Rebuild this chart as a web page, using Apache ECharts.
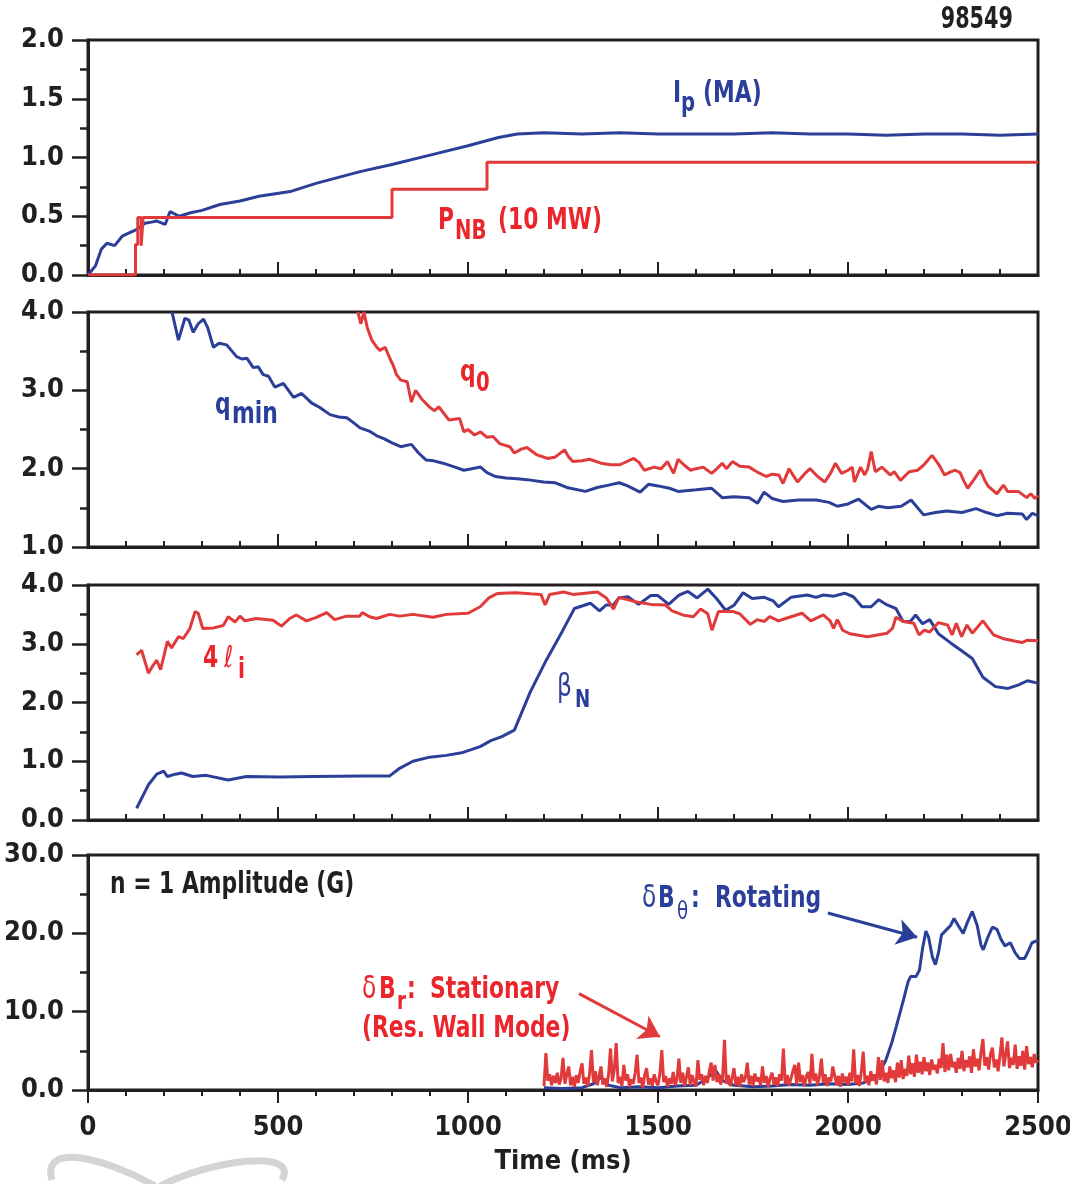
<!DOCTYPE html>
<html>
<head>
<meta charset="utf-8">
<script src="https://cdn.jsdelivr.net/npm/echarts@6/dist/echarts.min.js"></script>
<style>
  html, body { margin: 0; padding: 0; background: #fff; }
  #chart { width: 1070px; height: 1184px; }
</style>
</head>
<body>
<div id="chart"></div>
<script>
// ---- data (time in ms) ----
var ipData = [[0,0],[20,0.08],[35,0.22],[50,0.27],[70,0.25],[90,0.33],[110,0.36],[130,0.39],[150,0.44],[167,0.45],[180,0.46],[203,0.43],[216,0.54],[240,0.5],[270,0.53],[300,0.55],[347,0.6],[400,0.63],[450,0.67],[532,0.71],[600,0.78],[716,0.88],[800,0.94],[900,1.02],[1000,1.1],[1080,1.17],[1130,1.2],[1200,1.21],[1300,1.2],[1400,1.21],[1500,1.2],[1600,1.2],[1700,1.2],[1800,1.21],[1900,1.2],[2000,1.2],[2100,1.19],[2200,1.2],[2300,1.2],[2400,1.19],[2500,1.2]];
var pnbData = [[0,0],[125,0],[125,0.26],[131,0.26],[131,0.49],[140,0.49],[140,0.25],[145,0.25],[145,0.49],[800,0.49],[800,0.73],[1050,0.73],[1050,0.96],[2500,0.96]];

var qminData = [[221,4.0],[238,3.64],[255,3.92],[265,3.9],[277,3.74],[290,3.85],[304,3.91],[315,3.8],[330,3.55],[345,3.6],[365,3.58],[391,3.43],[405,3.4],[418,3.41],[435,3.29],[448,3.3],[461,3.2],[475,3.18],[492,3.04],[514,3.09],[541,2.91],[562,2.96],[575,2.9],[588,2.84],[610,2.78],[637,2.69],[660,2.66],[681,2.65],[695,2.6],[716,2.52],[740,2.48],[760,2.42],[780,2.38],[800,2.33],[823,2.28],[851,2.31],[870,2.2],[890,2.11],[910,2.1],[934,2.07],[960,2.03],[989,1.98],[1010,2.0],[1033,2.02],[1050,1.95],[1072,1.9],[1100,1.88],[1130,1.87],[1155,1.86],[1199,1.83],[1230,1.82],[1260,1.76],[1309,1.71],[1340,1.76],[1370,1.79],[1398,1.82],[1420,1.78],[1453,1.7],[1475,1.8],[1500,1.78],[1530,1.75],[1553,1.71],[1600,1.73],[1641,1.75],[1669,1.63],[1700,1.64],[1740,1.63],[1762,1.56],[1779,1.7],[1800,1.62],[1829,1.58],[1870,1.6],[1917,1.6],[1950,1.57],[1972,1.52],[2000,1.55],[2028,1.61],[2061,1.48],[2080,1.52],[2105,1.5],[2140,1.52],[2166,1.6],[2199,1.41],[2230,1.44],[2260,1.46],[2300,1.44],[2337,1.49],[2365,1.44],[2392,1.4],[2420,1.43],[2459,1.42],[2470,1.35],[2485,1.43],[2500,1.4]];
var q0Data = [[710,4.0],[718,3.85],[726,4.0],[735,3.8],[747,3.64],[760,3.55],[768,3.51],[782,3.55],[795,3.4],[803,3.32],[812,3.2],[823,3.13],[840,3.11],[851,2.85],[862,3.0],[878,2.89],[900,2.78],[912,2.74],[923,2.79],[950,2.62],[978,2.64],[989,2.47],[1000,2.5],[1017,2.43],[1033,2.47],[1050,2.4],[1066,2.41],[1083,2.32],[1110,2.28],[1122,2.2],[1140,2.25],[1155,2.27],[1180,2.18],[1210,2.13],[1230,2.15],[1254,2.24],[1265,2.15],[1276,2.09],[1300,2.1],[1320,2.12],[1350,2.07],[1376,2.05],[1400,2.05],[1436,2.13],[1450,2.08],[1464,1.98],[1490,2.02],[1508,2.0],[1525,2.09],[1541,1.94],[1553,2.12],[1570,2.04],[1586,1.98],[1600,2.0],[1619,2.02],[1641,1.94],[1655,2.0],[1669,2.07],[1680,2.0],[1696,2.09],[1715,2.03],[1740,2.02],[1760,1.96],[1785,1.9],[1800,1.93],[1818,1.92],[1829,1.81],[1845,2.0],[1855,1.92],[1867,1.83],[1885,1.93],[1900,2.0],[1920,1.9],[1939,1.83],[1955,1.95],[1967,2.07],[1983,1.94],[2000,1.98],[2011,2.02],[2017,1.83],[2033,2.02],[2044,1.92],[2052,2.0],[2061,2.22],[2072,1.96],[2089,2.02],[2111,1.92],[2122,1.96],[2138,1.85],[2161,1.96],[2183,1.98],[2200,2.05],[2221,2.17],[2235,2.08],[2243,2.02],[2254,1.92],[2270,1.96],[2282,1.98],[2295,1.95],[2304,1.85],[2315,1.75],[2330,1.85],[2348,1.98],[2360,1.85],[2370,1.77],[2392,1.68],[2409,1.79],[2420,1.71],[2448,1.71],[2470,1.63],[2481,1.68],[2492,1.62],[2500,1.66]];

var li4Data = [[128,2.81],[141,2.89],[159,2.5],[170,2.62],[181,2.72],[191,2.56],[209,3.04],[220,2.93],[238,3.12],[251,3.09],[268,3.26],[282,3.55],[290,3.52],[302,3.26],[330,3.27],[356,3.31],[369,3.46],[387,3.37],[400,3.47],[413,3.39],[443,3.43],[487,3.4],[509,3.3],[531,3.43],[548,3.49],[575,3.39],[601,3.45],[628,3.53],[649,3.41],[680,3.47],[715,3.47],[722,3.53],[741,3.46],[759,3.43],[794,3.5],[820,3.47],[855,3.5],[908,3.45],[943,3.5],[1000,3.52],[1032,3.63],[1055,3.78],[1075,3.85],[1089,3.86],[1126,3.87],[1164,3.85],[1192,3.84],[1203,3.66],[1215,3.84],[1252,3.88],[1276,3.84],[1341,3.88],[1364,3.78],[1383,3.59],[1397,3.79],[1444,3.71],[1481,3.67],[1519,3.66],[1537,3.56],[1565,3.49],[1593,3.46],[1612,3.59],[1631,3.51],[1642,3.23],[1659,3.55],[1696,3.55],[1715,3.51],[1743,3.33],[1761,3.41],[1780,3.38],[1794,3.46],[1817,3.39],[1836,3.43],[1879,3.52],[1902,3.39],[1935,3.49],[1953,3.39],[1962,3.26],[1972,3.41],[1986,3.23],[2005,3.17],[2051,3.12],[2103,3.18],[2117,3.26],[2126,3.45],[2145,3.38],[2173,3.35],[2187,3.15],[2201,3.23],[2215,3.2],[2238,3.36],[2262,3.32],[2274,3.15],[2285,3.35],[2299,3.12],[2313,3.32],[2327,3.18],[2355,3.39],[2383,3.15],[2407,3.09],[2435,3.05],[2458,3.02],[2472,3.06],[2500,3.05]];
var betaNData = [[128,0.2],[145,0.42],[159,0.6],[181,0.78],[199,0.83],[209,0.74],[230,0.78],[246,0.8],[276,0.74],[311,0.76],[369,0.68],[417,0.74],[505,0.73],[592,0.74],[724,0.75],[794,0.75],[820,0.88],[855,1.0],[899,1.07],[943,1.1],[987,1.15],[1032,1.25],[1060,1.35],[1089,1.42],[1122,1.53],[1164,2.18],[1206,2.72],[1248,3.21],[1280,3.6],[1322,3.69],[1346,3.56],[1364,3.66],[1383,3.66],[1397,3.78],[1421,3.8],[1449,3.67],[1481,3.82],[1500,3.82],[1528,3.67],[1556,3.83],[1579,3.89],[1603,3.78],[1631,3.93],[1654,3.77],[1678,3.57],[1701,3.66],[1724,3.87],[1748,3.77],[1780,3.79],[1803,3.73],[1817,3.63],[1850,3.79],[1893,3.83],[1916,3.79],[1935,3.83],[1963,3.81],[1991,3.86],[2014,3.8],[2037,3.63],[2061,3.63],[2081,3.75],[2103,3.66],[2126,3.6],[2145,3.38],[2164,3.38],[2178,3.49],[2196,3.34],[2215,3.41],[2238,3.17],[2271,3.01],[2299,2.88],[2327,2.75],[2355,2.43],[2388,2.27],[2421,2.24],[2449,2.3],[2472,2.37],[2500,2.33]];

var dBthetaData = [[1200,0.3],[1250,0.2],[1300,0.3],[1330,0.8],[1350,1.6],[1370,0.6],[1400,0.3],[1450,0.4],[1500,0.3],[1550,0.5],[1600,0.6],[1630,1.5],[1650,2.6],[1670,1.2],[1700,0.6],[1750,0.4],[1800,0.5],[1850,0.7],[1900,0.6],[1950,0.8],[2000,0.7],[2040,0.9],[2065,1.4],[2079,2.1],[2098,3.6],[2115,6.0],[2127,8.1],[2146,11.5],[2158,13.8],[2165,14.5],[2179,14.5],[2188,15.3],[2196,18.0],[2205,20.3],[2212,19.5],[2222,17.0],[2230,16.0],[2238,17.5],[2246,19.8],[2262,20.6],[2270,21.0],[2279,21.9],[2290,21.0],[2303,20.0],[2315,21.5],[2327,22.8],[2340,21.0],[2350,18.5],[2356,17.9],[2368,19.5],[2380,20.8],[2392,20.5],[2403,19.2],[2413,18.4],[2427,18.8],[2440,17.5],[2451,16.8],[2465,16.8],[2475,17.8],[2484,18.8],[2500,19.1]];

// dB_r sampled every 5 ms from 1200 ms
var dBrStart = 1200, dBrStep = 5;
var dBrValues = [
  0.5,4.7,1.2,2.0,0.6,1.8,0.9,2.2,0.7,1.5,4.1,0.8,2.0,3.0,0.6,1.7,0.4,1.9,0.9,2.3,
  3.4,0.8,1.6,0.5,2.1,5.1,1.0,2.4,0.6,1.8,3.0,0.7,1.5,0.4,2.0,5.3,1.1,2.6,6.0,0.9,
  1.7,0.5,3.2,1.2,2.0,0.4,1.4,0.8,2.2,4.5,0.9,1.6,0.3,1.9,2.8,0.7,1.5,0.5,2.0,1.1,
  0.6,2.1,5.1,1.0,1.8,0.4,1.5,0.8,2.3,0.6,1.4,4.0,0.9,2.2,0.5,1.7,2.9,0.6,1.9,1.0,
  0.5,3.8,1.3,2.0,0.6,1.8,0.9,2.4,3.5,1.2,3.2,1.0,2.0,0.7,1.6,6.4,0.8,1.9,0.5,1.5,
  2.8,0.6,1.7,0.4,2.0,1.0,1.6,3.5,0.7,1.8,0.5,2.1,1.1,1.6,0.6,3.0,0.9,1.8,0.4,1.5,
  2.2,0.7,1.6,0.5,2.0,1.2,5.3,0.8,1.9,0.6,1.5,2.4,3.2,0.7,3.5,1.0,1.9,0.5,1.7,2.3,
  0.8,4.6,1.2,2.1,0.6,1.8,4.0,0.9,2.0,0.5,1.6,1.1,3.0,3.2,0.7,1.8,0.4,2.1,1.0,1.7,
  0.6,2.2,1.1,5.2,0.8,1.9,0.5,2.3,4.9,1.0,1.8,0.6,2.4,1.2,2.0,0.7,4.2,1.3,3.8,1.1,
  2.2,0.9,3.0,1.5,2.5,1.0,3.5,1.6,3.8,1.4,2.7,1.8,4.4,2.0,3.4,1.7,4.5,2.2,3.6,2.0,
  4.2,2.4,3.5,1.9,3.9,2.6,3.2,2.1,4.0,2.8,6.0,2.3,4.5,2.5,4.6,2.9,3.6,2.2,4.1,2.7,
  5.0,2.4,3.8,2.9,4.3,2.2,5.2,3.0,4.0,2.5,4.8,6.5,3.1,4.2,2.6,4.6,5.4,2.9,3.9,2.4,
  4.4,6.7,3.0,4.5,6.2,2.8,4.1,3.2,5.8,2.7,4.3,3.1,5.0,2.6,5.6,3.3,4.2,2.9,4.6,3.5,3.8
];

var xTicks = [0, 500, 1000, 1500, 2000, 2500];

var BLUE = '#2b3f98';
var RED = '#e03a3a';
var TBLUE = '#2b3f9a';
var TRED = '#ea262c';
var INK = '#231f20';
var FONT = "'Liberation Sans Narrow', 'DejaVu Sans Condensed', sans-serif";
var SQUEEZE = 0.81;   // narrow the annotation text to look like a condensed face

var myChart = echarts.init(document.getElementById('chart'), null, {renderer: 'canvas'});

var dBrData = [];
dBrValues.forEach(function (v, i) {
    dBrData.push([dBrStart + i * dBrStep, v]);
});

var panels = [
    {top: 40,  min: 0, max: 2,  interval: 0.5},
    {top: 312, min: 1, max: 4,  interval: 1},
    {top: 585, min: 0, max: 4,  interval: 1},
    {top: 855, min: 0, max: 30, interval: 10}
];

var grids = [], xAxes = [], yAxes = [];
panels.forEach(function (p, i) {
    var last = i === panels.length - 1;
    grids.push({
        left: 88, right: 32, top: p.top, height: 235,
        containLabel: false, outerBoundsMode: 'none',
        show: true, borderColor: INK, borderWidth: 3
    });
    xAxes.push({
        type: 'value', gridIndex: i, min: xTicks[0], max: xTicks[xTicks.length - 1], interval: 500,
        axisLine: {show: true, onZero: false, lineStyle: {color: INK, width: 3}},
        axisTick: {show: true, inside: !last, length: 13, lineStyle: {color: INK, width: 2}},
        minorTick: {show: true, splitNumber: 5, length: 6, lineStyle: {color: INK, width: 2}},
        splitLine: {show: false},
        axisLabel: {
            show: last, margin: 24, color: INK,
            fontFamily: FONT, fontWeight: 'bold', fontSize: 27,
            formatter: function (v) { return String(v); }
        },
        name: last ? 'Time (ms)' : '',
        nameLocation: 'middle', nameGap: 58,
        nameTextStyle: {color: INK, fontFamily: FONT, fontWeight: 'bold', fontSize: 27}
    });
    yAxes.push({
        type: 'value', gridIndex: i, min: p.min, max: p.max, interval: p.interval,
        axisLine: {show: true, onZero: false, lineStyle: {color: INK, width: 3}},
        axisTick: {show: true, length: 16, lineStyle: {color: INK, width: 2.5}},
        minorTick: {show: true, splitNumber: 2, length: 8, lineStyle: {color: INK, width: 2.5}},
        splitLine: {show: false},
        axisLabel: {
            margin: 24, color: INK, fontFamily: FONT, fontWeight: 'bold', fontSize: 27,
            formatter: function (v) { return v.toFixed(1); }
        }
    });
});

function line(name, idx, data, color, width, z, extra) {
    var s = {
        name: name, type: 'line', xAxisIndex: idx, yAxisIndex: idx, data: data,
        showSymbol: false, symbol: 'none', z: z,
        lineStyle: {color: color, width: width}
    };
    if (extra) { for (var k in extra) s[k] = extra[k]; }
    return s;
}

function arrow(color, from, to) {
    return {
        silent: true, symbol: ['none', 'arrow'], symbolSize: 20,
        label: {show: false},
        itemStyle: {color: color},
        lineStyle: {color: color, width: 3, type: 'solid'},
        emphasis: {disabled: true},
        data: [[{coord: from}, {coord: to}]]
    };
}

function lab(x, y, text, color, size, weight, align, sx) {
    return {
        type: 'text', x: x, y: y, silent: true, z: 100,
        scaleX: sx || SQUEEZE,
        style: {
            text: text, fill: color,
            font: (weight || 'bold') + ' ' + size + 'px ' + FONT,
            align: align || 'left', verticalAlign: 'middle'
        }
    };
}

var labels = [
    lab(1013, 20, '98549', INK, 30, 'bold', 'right', 0.77),
    // Ip (MA)
    lab(673, 94, 'I', TBLUE, 30), lab(681, 104, 'p', TBLUE, 27), lab(703, 94, '(MA)', TBLUE, 30),
    // PNB (10 MW)
    lab(438, 221, 'P', TRED, 30), lab(455, 232, 'NB', TRED, 27), lab(498, 221, '(10 MW)', TRED, 30),
    // q0, qmin
    lab(460, 373, 'q', TRED, 30), lab(476, 384, '0', TRED, 27),
    lab(215, 406, 'q', TBLUE, 30), lab(232, 415, 'min', TBLUE, 30),
    // 4 li, betaN
    lab(203, 659, '4', TRED, 30), lab(224, 659, '\u2113', TRED, 30, 'normal'), lab(238, 671, 'i', TRED, 28),
    lab(557, 688, '\u03b2', TBLUE, 32, 'normal'), lab(575, 700, 'N', TBLUE, 25),
    // panel 4
    lab(110, 885, 'n = 1 Amplitude (G)', INK, 30),
    lab(642, 899, '\u03b4', TBLUE, 32, 'normal'), lab(658, 899, 'B', TBLUE, 30),
    lab(677, 912, '\u03b8', TBLUE, 25, 'normal'), lab(691, 899, ':', TBLUE, 30),
    lab(715, 899, 'Rotating', TBLUE, 30),
    lab(362, 990, '\u03b4', TRED, 32, 'normal'), lab(379, 990, 'B', TRED, 30),
    lab(397, 1002, 'r', TRED, 25), lab(407, 990, ':', TRED, 30),
    lab(430, 990, 'Stationary', TRED, 30),
    lab(362, 1029, '(Res. Wall Mode)', TRED, 30)
];

// faint logo wings at bottom-left
var swoosh = [
    {type: 'bezierCurve', silent: true, z: -1,
     shape: {x1: 155, y1: 1186, cpx1: 110, cpy1: 1160, cpx2: 40, cpy2: 1140, x2: 52, y2: 1180},
     style: {stroke: '#d4d4d4', lineWidth: 7, fill: null}},
    {type: 'bezierCurve', silent: true, z: -1,
     shape: {x1: 160, y1: 1186, cpx1: 210, cpy1: 1160, cpx2: 300, cpy2: 1148, x2: 282, y2: 1180},
     style: {stroke: '#d4d4d4', lineWidth: 7, fill: null}}
];

var option = {
    animation: false,
    backgroundColor: '#ffffff',
    grid: grids,
    xAxis: xAxes,
    yAxis: yAxes,
    graphic: swoosh.concat(labels),
    series: [
        line('Ip', 0, ipData, BLUE, 3, 2),
        line('PNB', 0, pnbData, RED, 3, 3),
        line('qmin', 1, qminData, BLUE, 3, 2),
        line('q0', 1, q0Data, RED, 3, 3),
        line('betaN', 2, betaNData, BLUE, 3, 2),
        line('4li', 2, li4Data, RED, 3, 3),
        line('dBtheta', 3, dBthetaData, BLUE, 3, 2,
            {markLine: arrow(BLUE, [1947, 22.6], [2182, 19.5])}),
        line('dBr', 3, dBrData, RED, 3, 3,
            {markLine: arrow(RED, [1292, 12.3], [1505, 6.8])})
    ]
};

myChart.setOption(option);
</script>
</body>
</html>
